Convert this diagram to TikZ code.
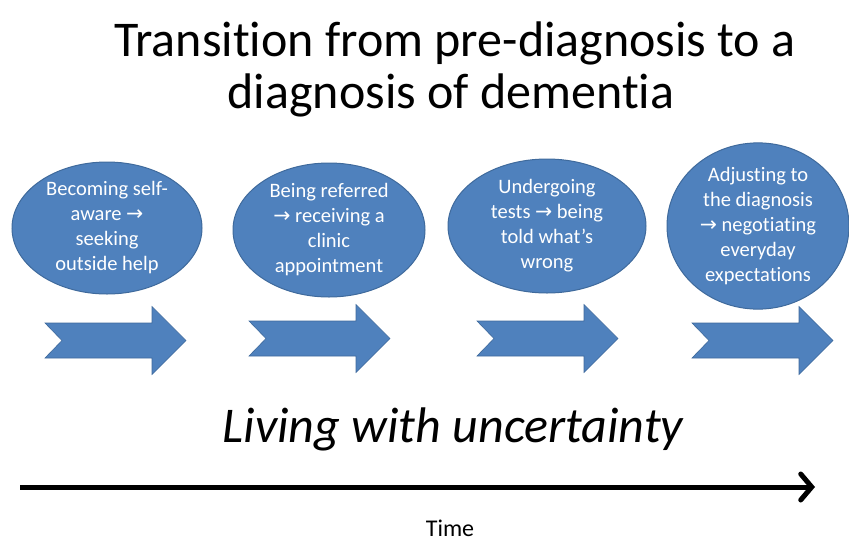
\documentclass[tikz,border=0pt]{standalone}
\usepackage{fontspec}
\setmainfont{Carlito}[Ligatures=NoCommon]
\newfontfamily\symfont{DejaVu Sans}
\usetikzlibrary{shapes.geometric,arrows.meta}
\definecolor{stageblue}{HTML}{4F81BD}
\definecolor{stageedge}{HTML}{3F6A9C}
\newcommand{\ra}{{\symfont\char"2192}}
\tikzset{
  stage/.style={ellipse, fill=stageblue, draw=stageedge, line width=1pt,
    inner sep=0pt, text=white, align=center,
    font=\fontsize{20.5}{25}\selectfont},
  heading/.style={anchor=base, font=\fontsize{50}{53}\selectfont},
  blockarrow/.pic={
    \path[fill=stageblue, draw=stageedge, line width=0.6pt, line join=miter]
      (0,-17.5) -- (107,-17.5) -- (107,-34) -- (141,0) -- (107,34)
      -- (107,17.5) -- (0,17.5) -- (17,0) -- cycle;
  },
  timeline/.style={line width=5pt, -{Straight Barb[length=11pt,width=26pt,line cap=round]}},
}
\begin{document}
\begin{tikzpicture}[x=1pt,y=-1pt]
\useasboundingbox (0,0) rectangle (849,542);

% heading, two lines
\node[heading] (title1) at (455,56) {Transition from pre-diagnosis to a};
\node[heading] (title2) at (451,108) {diagnosis of dementia};

% stages
\node[stage, minimum width=190pt, minimum height=132pt] (s1) at (107,228)
  {Becoming self-\\aware \ra\\seeking\\outside help};
\node[stage, minimum width=192pt, minimum height=134pt] (s2) at (329,230)
  {Being referred\\\ra\ receiving a\\clinic\\appointment};
\node[stage, minimum width=198pt, minimum height=134pt] (s3) at (547,226)
  {Undergoing\\tests \ra\ being\\told what’s\\wrong};
\node[stage, minimum width=182pt, minimum height=142pt] (s4) at (758,226)
  {Adjusting to\\the diagnosis\\\ra\ negotiating\\everyday\\expectations};

% progression arrows
\pic at (45,340.5) {blockarrow};
\pic at (249,338.5) {blockarrow};
\pic at (477,338.5) {blockarrow};
\pic at (692,340.5) {blockarrow};

\node[anchor=base, font=\fontsize{50}{56}\selectfont\itshape] (living) at (453,442)
  {Living with uncertainty};

% time axis
\coordinate (t0) at (20,487);
\coordinate (t1) at (815,487);
\draw[timeline] (t0) -- (t1);
\node[anchor=base, font=\fontsize{24}{28}\selectfont] (time) at (450,536) {Time};
\end{tikzpicture}
\end{document}
